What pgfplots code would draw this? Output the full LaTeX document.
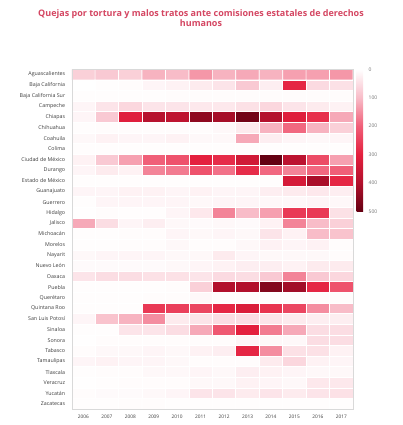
\documentclass[border=0pt]{standalone}
\usepackage{fontspec}
\setmainfont{Open Sans}
\usepackage{pgfplots}
\pgfplotsset{compat=1.18}
\definecolor{titlecol}{RGB}{212,70,98}
\definecolor{labcol}{RGB}{60,60,60}
\begin{document}
\begin{tikzpicture}
\useasboundingbox (0,0) rectangle (402pt,425pt);
\node[font=\fontsize{9}{10.5}\selectfont\bfseries, text=titlecol, align=center] at (201pt,407pt)
 {Quejas por tortura y malos tratos ante comisiones estatales de derechos\\humanos};
\begin{axis}[
  at={(71.7pt,15.7pt)}, anchor=south west,
  scale only axis, width=281.3pt, height=340pt,
  xmin=-0.5, xmax=11.5, ymin=-0.5, ymax=31.5,
  y dir=reverse,
  axis line style={draw=black!15},
  tick style={draw=none},
  xtick={0,...,11},
  xticklabels={2006,2007,2008,2009,2010,2011,2012,2013,2014,2015,2016,2017},
  ytick={0,...,31},
  yticklabels={Aguascalientes,Baja California,Baja California Sur,Campeche,Chiapas,Chihuahua,Coahuila,Colima,Ciudad de México,Durango,Estado de México,Guanajuato,Guerrero,Hidalgo,Jalisco,Michoacán,Morelos,Nayarit,Nuevo León,Oaxaca,Puebla,Querétaro,Quintana Roo,San Luis Potosí,Sinaloa,Sonora,Tabasco,Tamaulipas,Tlaxcala,Veracruz,Yucatán,Zacatecas},
  yticklabel style={font=\fontsize{5.3}{6}\selectfont, text=labcol, xshift=-3pt},
  xticklabel style={font=\fontsize{4.8}{6}\selectfont, text=labcol, yshift=-2pt},
  colormap={quejas}{rgb255=(255,255,255) rgb255=(248,188,200) rgb255=(240,95,120) rgb255=(228,32,62) rgb255=(178,16,44) rgb255=(100,0,18)},
  point meta min=0, point meta max=500,
  colorbar right,
  colorbar style={
    at={(1.013,1)}, anchor=north west,
    scale only axis, width=6.5pt, height=142pt,
    y dir=reverse,
    ytick={0,100,200,300,400,500},
    axis line style={draw=none},
    tick style={draw=none},
    /pgf/number format/assume math mode=true,
    yticklabel style={font=\fontsize{5}{6}\selectfont, text=black!55, xshift=2pt},
  },
]
\addplot[matrix plot, mesh/cols=12, point meta=explicit, shader=faceted, faceted color=white, line width=0.7pt]
 table[meta=c, row sep=\\] {
x y c\\
0 0 70\\ 1 0 80\\ 2 0 70\\ 3 0 110\\ 4 0 100\\ 5 0 140\\ 6 0 110\\ 7 0 120\\ 8 0 110\\ 9 0 130\\ 10 0 130\\ 11 0 140\\
0 1 0\\ 1 1 3\\ 2 1 5\\ 3 1 15\\ 4 1 20\\ 5 1 30\\ 6 1 40\\ 7 1 80\\ 8 1 25\\ 9 1 290\\ 10 1 55\\ 11 1 45\\
0 2 3\\ 1 2 3\\ 2 2 3\\ 3 2 3\\ 4 2 5\\ 5 2 5\\ 6 2 5\\ 7 2 5\\ 8 2 5\\ 9 2 5\\ 10 2 5\\ 11 2 5\\
0 3 15\\ 1 3 40\\ 2 3 60\\ 3 3 40\\ 4 3 40\\ 5 3 35\\ 6 3 35\\ 7 3 45\\ 8 3 60\\ 9 3 40\\ 10 3 30\\ 11 3 20\\
0 4 15\\ 1 4 80\\ 2 4 310\\ 3 4 390\\ 4 4 375\\ 5 4 445\\ 6 4 415\\ 7 4 480\\ 8 4 395\\ 9 4 310\\ 10 4 275\\ 11 4 120\\
0 5 3\\ 1 5 5\\ 2 5 5\\ 3 5 5\\ 4 5 5\\ 5 5 5\\ 6 5 10\\ 7 5 30\\ 8 5 110\\ 9 5 190\\ 10 5 110\\ 11 5 70\\
0 6 10\\ 1 6 20\\ 2 6 15\\ 3 6 15\\ 4 6 20\\ 5 6 10\\ 6 6 10\\ 7 6 120\\ 8 6 25\\ 9 6 15\\ 10 6 10\\ 11 6 15\\
0 7 3\\ 1 7 3\\ 2 7 3\\ 3 7 3\\ 4 7 3\\ 5 7 3\\ 6 7 3\\ 7 7 3\\ 8 7 3\\ 9 7 3\\ 10 7 3\\ 11 7 3\\
0 8 20\\ 1 8 80\\ 2 8 130\\ 3 8 200\\ 4 8 220\\ 5 8 300\\ 6 8 280\\ 7 8 340\\ 8 8 500\\ 9 8 380\\ 10 8 230\\ 11 8 130\\
0 9 15\\ 1 9 30\\ 2 9 20\\ 3 9 160\\ 4 9 170\\ 5 9 220\\ 6 9 180\\ 7 9 280\\ 8 9 190\\ 9 9 160\\ 10 9 190\\ 11 9 200\\
0 10 3\\ 1 10 3\\ 2 10 3\\ 3 10 3\\ 4 10 3\\ 5 10 3\\ 6 10 3\\ 7 10 3\\ 8 10 3\\ 9 10 330\\ 10 10 410\\ 11 10 290\\
0 11 15\\ 1 11 15\\ 2 11 20\\ 3 11 20\\ 4 11 15\\ 5 11 20\\ 6 11 15\\ 7 11 15\\ 8 11 25\\ 9 11 30\\ 10 11 35\\ 11 11 25\\
0 12 3\\ 1 12 15\\ 2 12 15\\ 3 12 15\\ 4 12 15\\ 5 12 10\\ 6 12 15\\ 7 12 15\\ 8 12 10\\ 9 12 10\\ 10 12 15\\ 11 12 10\\
0 13 2\\ 1 13 5\\ 2 13 3\\ 3 13 3\\ 4 13 15\\ 5 13 35\\ 6 13 160\\ 7 13 100\\ 8 13 130\\ 9 13 260\\ 10 13 260\\ 11 13 45\\
0 14 120\\ 1 14 50\\ 2 14 15\\ 3 14 25\\ 4 14 10\\ 5 14 8\\ 6 14 10\\ 7 14 8\\ 8 14 20\\ 9 14 160\\ 10 14 100\\ 11 14 70\\
0 15 3\\ 1 15 3\\ 2 15 5\\ 3 15 5\\ 4 15 15\\ 5 15 10\\ 6 15 15\\ 7 15 10\\ 8 15 40\\ 9 15 20\\ 10 15 100\\ 11 15 90\\
0 16 3\\ 1 16 3\\ 2 16 5\\ 3 16 5\\ 4 16 10\\ 5 16 5\\ 6 16 5\\ 7 16 10\\ 8 16 20\\ 9 16 15\\ 10 16 20\\ 11 16 5\\
0 17 10\\ 1 17 15\\ 2 17 15\\ 3 17 15\\ 4 17 10\\ 5 17 10\\ 6 17 30\\ 7 17 15\\ 8 17 10\\ 9 17 10\\ 10 17 10\\ 11 17 5\\
0 18 8\\ 1 18 8\\ 2 18 8\\ 3 18 8\\ 4 18 10\\ 5 18 15\\ 6 18 20\\ 7 18 25\\ 8 18 25\\ 9 18 20\\ 10 18 30\\ 11 18 30\\
0 19 40\\ 1 19 50\\ 2 19 50\\ 3 19 45\\ 4 19 45\\ 5 19 40\\ 6 19 55\\ 7 19 50\\ 8 19 80\\ 9 19 160\\ 10 19 80\\ 11 19 60\\
0 20 3\\ 1 20 3\\ 2 20 3\\ 3 20 3\\ 4 20 5\\ 5 20 70\\ 6 20 400\\ 7 20 400\\ 8 20 460\\ 9 20 420\\ 10 20 290\\ 11 20 220\\
0 21 3\\ 1 21 3\\ 2 21 3\\ 3 21 5\\ 4 21 5\\ 5 21 10\\ 6 21 5\\ 7 21 5\\ 8 21 5\\ 9 21 5\\ 10 21 5\\ 11 21 5\\
0 22 3\\ 1 22 3\\ 2 22 3\\ 3 22 260\\ 4 22 250\\ 5 22 240\\ 6 22 290\\ 7 22 320\\ 8 22 270\\ 9 22 240\\ 10 22 150\\ 11 22 100\\
0 23 15\\ 1 23 90\\ 2 23 110\\ 3 23 150\\ 4 23 30\\ 5 23 40\\ 6 23 50\\ 7 23 50\\ 8 23 40\\ 9 23 30\\ 10 23 25\\ 11 23 25\\
0 24 3\\ 1 24 3\\ 2 24 40\\ 3 24 40\\ 4 24 50\\ 5 24 120\\ 6 24 210\\ 7 24 300\\ 8 24 170\\ 9 24 120\\ 10 24 50\\ 11 24 50\\
0 25 2\\ 1 25 5\\ 2 25 5\\ 3 25 5\\ 4 25 5\\ 5 25 5\\ 6 25 5\\ 7 25 15\\ 8 25 10\\ 9 25 10\\ 10 25 50\\ 11 25 50\\
0 26 5\\ 1 26 10\\ 2 26 10\\ 3 26 15\\ 4 26 10\\ 5 26 20\\ 6 26 25\\ 7 26 290\\ 8 26 150\\ 9 26 45\\ 10 26 45\\ 11 26 20\\
0 27 15\\ 1 27 20\\ 2 27 15\\ 3 27 15\\ 4 27 10\\ 5 27 5\\ 6 27 5\\ 7 27 5\\ 8 27 30\\ 9 27 60\\ 10 27 20\\ 11 27 15\\
0 28 3\\ 1 28 5\\ 2 28 5\\ 3 28 10\\ 4 28 10\\ 5 28 15\\ 6 28 10\\ 7 28 25\\ 8 28 20\\ 9 28 15\\ 10 28 10\\ 11 28 10\\
0 29 2\\ 1 29 3\\ 2 29 5\\ 3 29 5\\ 4 29 5\\ 5 29 10\\ 6 29 10\\ 7 29 20\\ 8 29 15\\ 9 29 10\\ 10 29 35\\ 11 29 35\\
0 30 5\\ 1 30 8\\ 2 30 8\\ 3 30 10\\ 4 30 15\\ 5 30 40\\ 6 30 40\\ 7 30 30\\ 8 30 40\\ 9 30 30\\ 10 30 40\\ 11 30 45\\
0 31 3\\ 1 31 3\\ 2 31 5\\ 3 31 5\\ 4 31 3\\ 5 31 3\\ 6 31 3\\ 7 31 3\\ 8 31 3\\ 9 31 3\\ 10 31 3\\ 11 31 3\\
};
\end{axis}
\end{tikzpicture}
\end{document}
